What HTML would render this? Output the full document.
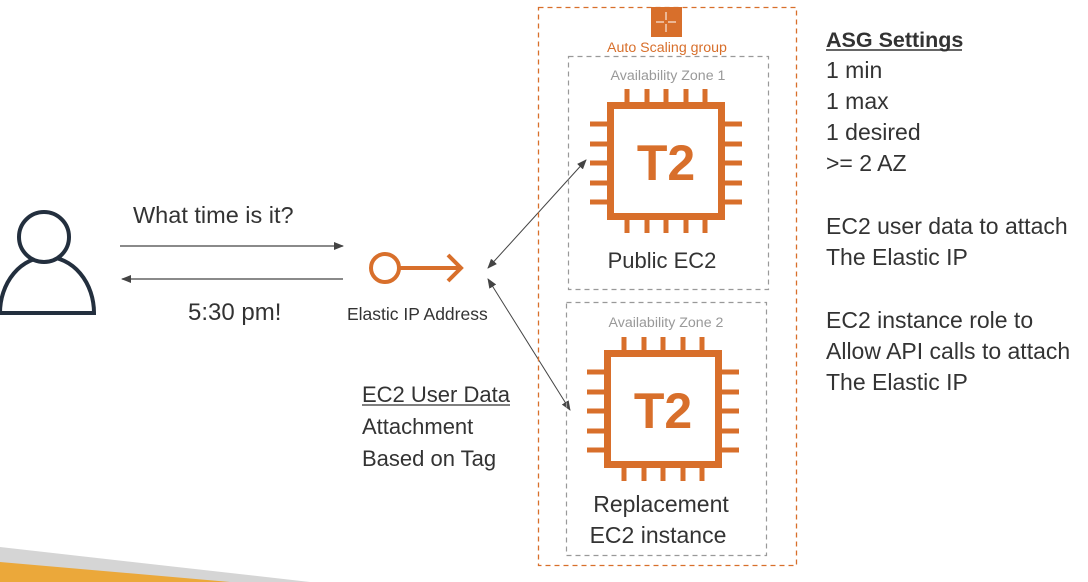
<!DOCTYPE html>
<html><head><meta charset="utf-8"><style>
html,body{margin:0;padding:0;background:#fff;}
svg{display:block;font-family:"Liberation Sans",sans-serif;}
</style></head><body>
<svg width="1088" height="582" viewBox="0 0 1088 582">
<defs>
<marker id="ah" markerWidth="10" markerHeight="8" refX="9" refY="4" orient="auto-start-reverse" markerUnits="userSpaceOnUse">
<path d="M0,0 L10,4 L0,8 Z" fill="#444"/></marker>
<g id="chip" fill="none" stroke="#d86f2b">
<rect x="3.5" y="3.5" width="111" height="111" stroke-width="7"/>
<g stroke-width="5">
<path d="M20,-13V0M40,-13V0M59,-13V0M79,-13V0M98,-13V0"/>
<path d="M20,118V131M40,118V131M59,118V131M79,118V131M98,118V131"/>
<path d="M-17,22H0M-17,42H0M-17,61H0M-17,81H0M-17,100H0"/>
<path d="M118,22H135M118,42H135M118,61H135M118,81H135M118,100H135"/>
</g>
</g>
</defs>
<!-- bottom bands -->
<polygon points="0,547 310,582 0,582" fill="#d5d5d5"/>
<polygon points="0,562 230,582 0,582" fill="#eba83a"/>
<!-- person -->
<path d="M0,313 A47,56 0 0 1 94,313 Z" fill="none" stroke="#232f3e" stroke-width="4"/>
<circle cx="44" cy="237" r="25" fill="#fff" stroke="#232f3e" stroke-width="4"/>
<!-- arrows -->
<line x1="120" y1="246" x2="343" y2="246" stroke="#444" stroke-width="1.2" marker-end="url(#ah)"/>
<line x1="343" y1="279" x2="122" y2="279" stroke="#444" stroke-width="1.2" marker-end="url(#ah)"/>
<text x="133" y="223" font-size="23.5" fill="#333">What time is it?</text>
<text x="188" y="320" font-size="24" fill="#333">5:30 pm!</text>
<!-- elastic ip -->
<circle cx="385" cy="268" r="14" fill="none" stroke="#d86f2b" stroke-width="4"/>
<line x1="399" y1="268" x2="460" y2="268" stroke="#d86f2b" stroke-width="4"/>
<path d="M448,255 L461,268 L448,281" fill="none" stroke="#d86f2b" stroke-width="4"/>
<text x="347" y="320" font-size="17.5" fill="#333">Elastic IP Address</text>
<line x1="488" y1="268" x2="586" y2="160" stroke="#444" stroke-width="1" marker-start="url(#ah)" marker-end="url(#ah)"/>
<line x1="488" y1="279" x2="570" y2="410" stroke="#444" stroke-width="1" marker-start="url(#ah)" marker-end="url(#ah)"/>
<text x="362" y="402" font-size="22" fill="#333">EC2 User Data</text>
<line x1="362" y1="405" x2="510" y2="405" stroke="#333" stroke-width="1.3"/>
<text x="362" y="434" font-size="22" fill="#333">Attachment</text>
<text x="362" y="466" font-size="22" fill="#333">Based on Tag</text>
<!-- ASG -->
<rect x="538.5" y="7.5" width="258" height="558" fill="none" stroke="#d86f2b" stroke-width="1.3" stroke-dasharray="5,4"/>
<rect x="651" y="7" width="31" height="30" fill="#d86f2b"/>
<g stroke="#fff" stroke-width="1" fill="none"><path d="M666,12V20M666,24V32M656,22H664M668,22H676"/></g>
<text x="667" y="52" font-size="14.2" fill="#d86f2b" text-anchor="middle">Auto Scaling group</text>
<rect x="568.5" y="56.5" width="200" height="233" fill="none" stroke="#999" stroke-width="1.2" stroke-dasharray="5,4"/>
<text x="668" y="80" font-size="14.2" fill="#999" text-anchor="middle">Availability Zone 1</text>
<use href="#chip" x="607" y="102"/>
<text x="666" y="180" font-size="50" font-weight="bold" fill="#d86f2b" text-anchor="middle">T2</text>
<text x="662" y="268" font-size="22" fill="#333" text-anchor="middle">Public EC2</text>
<rect x="566.5" y="302.5" width="200" height="253" fill="none" stroke="#999" stroke-width="1.2" stroke-dasharray="5,4"/>
<text x="666" y="327" font-size="14.2" fill="#999" text-anchor="middle">Availability Zone 2</text>
<use href="#chip" x="604" y="350"/>
<text x="663" y="428" font-size="50" font-weight="bold" fill="#d86f2b" text-anchor="middle">T2</text>
<text x="661" y="512" font-size="23" fill="#333" text-anchor="middle">Replacement</text>
<text x="658" y="543" font-size="23" fill="#333" text-anchor="middle">EC2 instance</text>
<!-- right text -->
<g font-size="23" fill="#333">
<text x="826" y="47" font-weight="bold" font-size="21.5">ASG Settings</text>
<line x1="826" y1="50" x2="962" y2="50" stroke="#333" stroke-width="1.5"/>
<text x="826" y="78">1 min</text>
<text x="826" y="109">1 max</text>
<text x="826" y="140">1 desired</text>
<text x="826" y="171">&gt;= 2 AZ</text>
<text x="826" y="234">EC2 user data to attach</text>
<text x="826" y="265">The Elastic IP</text>
<text x="826" y="328">EC2 instance role to</text>
<text x="826" y="359">Allow API calls to attach</text>
<text x="826" y="390">The Elastic IP</text>
</g>
</svg>
</body></html>
